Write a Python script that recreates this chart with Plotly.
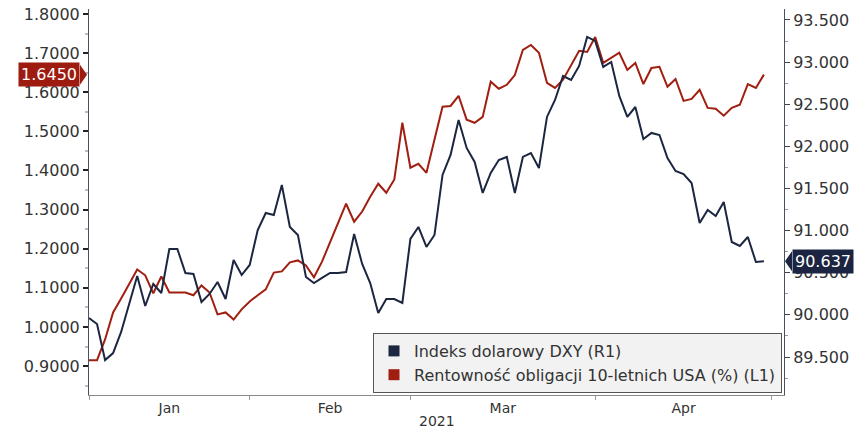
import pandas as pd
import plotly.graph_objects as go

# ---- data ----
dates = pd.bdate_range("2021-01-04", "2021-04-30")

us10y = [0.915, 0.915, 0.968, 1.037, 1.073, 1.109, 1.147, 1.132, 1.086, 1.129,
         1.088, 1.088, 1.088, 1.081, 1.106, 1.088, 1.032, 1.037, 1.019, 1.045,
         1.065, 1.081, 1.096, 1.139, 1.142, 1.165, 1.170, 1.157, 1.127, 1.167,
         1.218, 1.267, 1.315, 1.269, 1.295, 1.333, 1.366, 1.343, 1.377, 1.522,
         1.407, 1.417, 1.394, 1.479, 1.563, 1.565, 1.591, 1.530, 1.522, 1.537,
         1.627, 1.609, 1.619, 1.644, 1.708, 1.721, 1.701, 1.624, 1.611, 1.632,
         1.670, 1.706, 1.703, 1.741, 1.675, 1.688, 1.701, 1.657, 1.675, 1.621,
         1.662, 1.665, 1.614, 1.634, 1.578, 1.583, 1.606, 1.560, 1.558, 1.540,
         1.560, 1.568, 1.621, 1.611, 1.645]

dxy = [89.963, 89.892, 89.464, 89.547, 89.797, 90.117, 90.461, 90.105, 90.366, 90.260,
       90.782, 90.782, 90.497, 90.485, 90.153, 90.248, 90.390, 90.188, 90.651, 90.473,
       90.592, 91.007, 91.209, 91.185, 91.542, 91.043, 90.948, 90.450, 90.378, 90.438,
       90.497, 90.497, 90.509, 90.960, 90.604, 90.378, 90.022, 90.188, 90.188, 90.141,
       90.901, 91.043, 90.806, 90.948, 91.660, 91.898, 92.313, 91.981, 91.815, 91.447,
       91.684, 91.838, 91.874, 91.447, 91.874, 91.921, 91.743, 92.349, 92.550, 92.835,
       92.788, 92.954, 93.298, 93.251, 92.942, 93.001, 92.598, 92.349, 92.467, 92.088,
       92.159, 92.135, 91.862, 91.708, 91.672, 91.565, 91.091, 91.245, 91.174, 91.340,
       90.865, 90.818, 90.924, 90.628, 90.637]

month_labels = ["Jan", "Feb", "Mar", "Apr"]
month_label_pos = ["2021-01-18", "2021-02-15", "2021-03-16 12:00", "2021-04-16"]
month_bounds = ["2021-01-04", "2021-02-01", "2021-03-01", "2021-04-01", "2021-05-03"]

name_dxy = "Indeks dolarowy DXY (R1)"
name_us10y = "Rentowność obligacji 10-letnich USA (%) (L1)"
year_label = "2021"

NAVY = "#1c2640"
RED = "#a01f10"
FONT = "DejaVu Sans"
TXT = "#333333"

fig = go.Figure()
fig.add_trace(go.Scatter(x=dates, y=us10y, mode="lines", line=dict(color=RED, width=2),
                         yaxis="y", showlegend=False, name=name_us10y))
fig.add_trace(go.Scatter(x=dates, y=dxy, mode="lines", line=dict(color=NAVY, width=2),
                         yaxis="y2", showlegend=False, name=name_dxy))
# legend entries with square swatches
fig.add_trace(go.Scatter(x=[None], y=[None], mode="markers", name=name_dxy,
                         marker=dict(symbol="square", size=11, color=NAVY)))
fig.add_trace(go.Scatter(x=[None], y=[None], mode="markers", name=name_us10y,
                         marker=dict(symbol="square", size=11, color=RED)))

W, H = 867, 432
L, R, T, B = 89, 83, 9, 37
pw = W - L - R
ph = H - T - B

y_rng = [0.826, 1.8128]
y2_rng = [89.049, 93.63]
px_y = (y_rng[1] - y_rng[0]) / ph
px_y2 = (y2_rng[1] - y2_rng[0]) / ph

last_r = us10y[-1]
last_d = dxy[-1]

fig.update_layout(
    width=W, height=H,
    margin=dict(l=L, r=R, t=T, b=B, autoexpand=False),
    paper_bgcolor="white", plot_bgcolor="white",
    font=dict(family=FONT, size=16, color=TXT),
    xaxis=dict(
        type="date", automargin=False,
        rangebreaks=[dict(bounds=["sat", "mon"])],
        range=["2021-01-04", "2021-05-04 12:00"],
        tickmode="array", tickvals=month_label_pos, ticktext=month_labels,
        ticks="", ticklen=0,
        minor=dict(tickmode="array", tickvals=month_bounds, ticks="outside",
                   ticklen=4, tickcolor="#999999", showgrid=False),
        showline=True, linecolor="#8a8a8a", linewidth=1,
        showgrid=False, zeroline=False,
        tickfont=dict(size=14, color=TXT),
    ),
    yaxis=dict(
        automargin=False,
        range=y_rng, tick0=0.9, dtick=0.1, tickformat=".4f",
        ticks="outside", ticklen=5, tickwidth=2, tickcolor="#222222",
        minor=dict(dtick=0.05, ticks="outside", ticklen=3, tickcolor="#bbbbbb"),
        showline=True, linecolor="#4a5060", linewidth=1,
        showgrid=False, zeroline=False,
        tickfont=dict(size=16, color=TXT),
    ),
    yaxis2=dict(
        automargin=False,
        range=y2_rng, overlaying="y", side="right", tick0=89.5, dtick=0.5,
        tickformat=".3f",
        ticks="outside", ticklen=5, tickwidth=1, tickcolor="#444444",
        minor=dict(dtick=0.25, ticks="outside", ticklen=3, tickcolor="#999999"),
        showline=True, linecolor="#4a5060", linewidth=1,
        showgrid=False, zeroline=False,
        tickfont=dict(size=16, color=TXT),
    ),
    legend=dict(
        x=(373 - L) / pw, y=(H - B - 333) / ph, xanchor="left", yanchor="top",
        bgcolor="#f2f2f2", bordercolor="#555555", borderwidth=1,
        font=dict(size=16, color=TXT), tracegroupgap=0,
        itemwidth=30,
    ),
    annotations=[
        dict(text=year_label, xref="paper", yref="paper", x=0.5, y=0, yshift=-26,
             xanchor="center", yanchor="middle", showarrow=False,
             font=dict(size=14, color=TXT)),
        dict(text=f"{last_r:.4f}", xref="paper", yref="y", x=(80 - L) / pw, y=last_r,
             xanchor="right", yanchor="middle", showarrow=False,
             bgcolor="#9e1b10", borderpad=2, font=dict(size=16, color="white")),
        dict(text=f"{last_d:.3f}", xref="paper", yref="y2", x=(792 - L) / pw, y=last_d,
             xanchor="left", yanchor="middle", showarrow=False,
             bgcolor="#1b2440", borderpad=2, font=dict(size=16, color="white")),
    ],
    shapes=[
        dict(type="path", xref="paper", yref="y", fillcolor="#9e1b10", line=dict(width=0),
             path=(f"M {(80 - L) / pw},{last_r + 10 * px_y} L {(87 - L) / pw},{last_r} "
                   f"L {(80 - L) / pw},{last_r - 10 * px_y} Z")),
        dict(type="path", xref="paper", yref="y2", fillcolor="#1b2440", line=dict(width=0),
             path=(f"M {(792 - L) / pw},{last_d + 10 * px_y2} L {(785 - L) / pw},{last_d} "
                   f"L {(792 - L) / pw},{last_d - 10 * px_y2} Z")),
    ],
)

fig.write_html("out.html", config={"displayModeBar": False},
               post_script="document.body.style.margin='0';document.body.style.overflow='hidden';")
